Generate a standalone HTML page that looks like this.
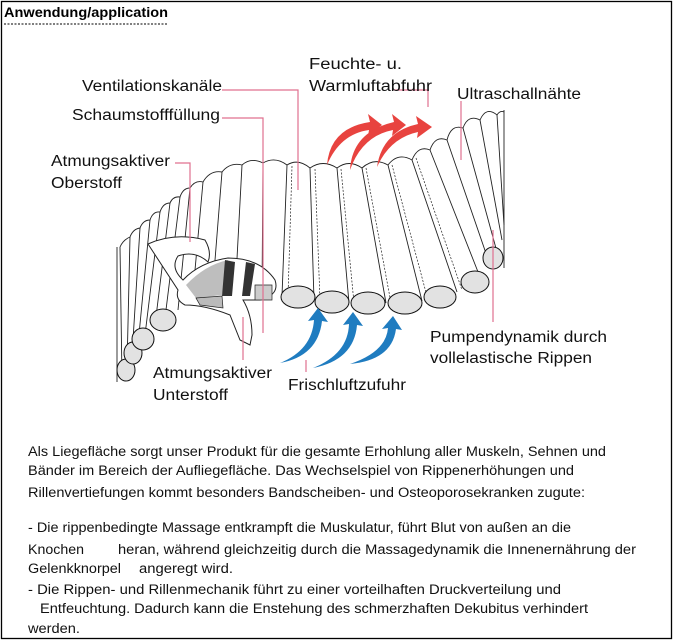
<!DOCTYPE html>
<html><head><meta charset="utf-8"><style>
html,body{margin:0;padding:0;background:#fff;}
svg{display:block;}
</style></head><body>
<svg width="674" height="643" viewBox="0 0 674 643" xmlns="http://www.w3.org/2000/svg">
<rect x="1.5" y="1.5" width="670" height="637" fill="#fff" stroke="#000" stroke-width="1.3"/>
<text x="4" y="17" font-family="Liberation Sans, sans-serif" font-size="13.5" font-weight="bold" textLength="164" lengthAdjust="spacingAndGlyphs">Anwendung/application</text>
<line x1="4" y1="24" x2="168" y2="24" stroke="#000" stroke-width="1" stroke-dasharray="2,1.5"/>

<g fill="none" stroke="#222" stroke-width="0.9">
<!-- rib boundaries -->
<path d="M120,247L122,378 M130,237L127,367 M140,228L132,356 M150,220L138,345 M160,212L145,335 M170,203L155,325 M180,197L165,318 M190,188L178,310 M203,182L192,303 M222,172L212,298 M242,165L235,296 M263,163L262,296 M287,165L282,296 M310,168L314,300 M337,168L349,303 M362,168L386,303 M388,165L422,301 M412,160L457,292 M430,150L480,277 M447,140L490,265 M463,128L497,252 M480,120L502,240 M497,115L504,225"/>
<!-- secondary lines -->
<path d="M292,166L288,296 M315,169L320,300 M341,169L354,303 M366,168L391,303 M392,165L428,300 M416,158L462,290" stroke-dasharray="2,1.5" stroke-width="0.7"/>
<!-- top caps -->
<path d="M120,247Q123,240 130,237Q133,229 140,228Q143,220 150,220Q153,211 160,212Q163,203 170,203Q173,196 180,197Q183,188 190,188Q195,180 203,182Q210,170 222,172Q230,162 242,165Q251,157 263,163Q275,156 287,165Q298,158 310,168Q323,159 337,168Q349,159 362,168Q374,157 388,165Q398,152 412,160Q418,145 430,150Q435,135 447,140Q451,124 463,128Q468,114 480,120Q486,106 497,115Q500,110 504,112"/>
<line x1="117" y1="247" x2="117" y2="382"/>
<line x1="504" y1="110" x2="504" y2="268"/>
</g>
<!-- ovals -->
<g fill="#e2e2e2" stroke="#111" stroke-width="1">
<ellipse cx="126" cy="370" rx="9" ry="11"/>
<ellipse cx="133" cy="353" rx="9" ry="11"/>
<ellipse cx="143" cy="339" rx="11" ry="11"/>
<ellipse cx="163" cy="320" rx="13" ry="11"/>
<ellipse cx="298" cy="297" rx="17" ry="11"/>
<ellipse cx="332" cy="302" rx="17" ry="11"/>
<ellipse cx="368" cy="303" rx="17" ry="11"/>
<ellipse cx="405" cy="303" rx="17" ry="11"/>
<ellipse cx="440" cy="297" rx="16" ry="11"/>
<ellipse cx="475" cy="282" rx="14" ry="11"/>
<ellipse cx="493" cy="258" rx="10" ry="11"/>
</g>
<!-- cutaway -->
<path d="M148,244Q175,232 205,240Q212,252 208,262Q195,250 178,256Q170,268 183,280Q200,262 228,258Q260,258 275,280Q280,295 260,300L243,300Q252,315 252,335L250,345L240,340L230,315Q205,305 185,305Q175,300 178,290Z" fill="#fff" stroke="#222" stroke-width="1"/>
<path d="M186,285Q205,265 228,260L222,295L196,298Z" fill="#888" opacity="0.55"/>
<path d="M225,260L235,262L232,296L222,296Z" fill="#333"/>
<path d="M246,262L255,264L250,296L242,296Z" fill="#333"/>
<path d="M196,298L222,296L223,308L200,305Z" fill="#bbb" stroke="#222" stroke-width="0.7"/>
<path d="M255,285L272,285L272,300L255,300Z" fill="#ccc" stroke="#222" stroke-width="0.7"/>

<!-- red arrows -->
<g fill="#e8433f">
<path d="M327,165Q330,128 370,122L368,114L382,125L368,136L369,130Q340,134 327,165Z"/>
<path d="M350,170Q352,132 394,122L392,114L406,125L392,136L393,130Q362,136 350,170Z"/>
<path d="M377,167Q382,132 418,124L416,116L432,127L417,138L418,132Q390,138 377,167Z"/>
</g>
<!-- blue arrows -->
<g fill="#1f7cc0">
<path d="M280,363Q312,350 314,320L308,321L318,308L328,322L322,321Q318,356 280,363Z"/>
<path d="M313,368Q348,354 349,324L343,325L353,312L363,326L357,325Q354,360 313,368Z"/>
<path d="M350,364Q386,352 388,328L382,329L393,316L402,330L396,329Q392,360 350,364Z"/>
</g>

<!-- pink leaders -->
<g stroke="#e0708f" stroke-width="1.2" fill="none">
<path d="M222,90H298V190"/>
<path d="M222,118H263V333"/>
<path d="M394,90H428V107"/>
<path d="M461,101V160"/>
<path d="M175,163H190V242"/>
<path d="M243,317V360"/>
<path d="M306,360V372"/>
<path d="M493,230V322"/>
</g>

<g font-family="Liberation Sans, sans-serif" font-size="15.5" fill="#111">
<text x="82" y="91" textLength="140" lengthAdjust="spacingAndGlyphs">Ventilationskanäle</text>
<text x="72" y="120" textLength="148" lengthAdjust="spacingAndGlyphs">Schaumstofffüllung</text>
<text x="309" y="69" textLength="93" lengthAdjust="spacingAndGlyphs">Feuchte- u.</text>
<text x="309" y="91" textLength="123" lengthAdjust="spacingAndGlyphs">Warmluftabfuhr</text>
<text x="457" y="99" textLength="124" lengthAdjust="spacingAndGlyphs">Ultraschallnähte</text>
<text x="51" y="166" textLength="119" lengthAdjust="spacingAndGlyphs">Atmungsaktiver</text>
<text x="51" y="188" textLength="71" lengthAdjust="spacingAndGlyphs">Oberstoff</text>
<text x="153" y="378" textLength="119" lengthAdjust="spacingAndGlyphs">Atmungsaktiver</text>
<text x="153" y="400" textLength="75" lengthAdjust="spacingAndGlyphs">Unterstoff</text>
<text x="288" y="390" textLength="118" lengthAdjust="spacingAndGlyphs">Frischluftzufuhr</text>
<text x="430" y="342" textLength="177" lengthAdjust="spacingAndGlyphs">Pumpendynamik durch</text>
<text x="430" y="363" textLength="162" lengthAdjust="spacingAndGlyphs">vollelastische Rippen</text>
</g>

<g font-family="Liberation Sans, sans-serif" font-size="13.5" fill="#111">
<text x="28" y="456" textLength="578" lengthAdjust="spacingAndGlyphs">Als Liegefläche sorgt unser Produkt für die gesamte Erhohlung aller Muskeln, Sehnen und</text>
<text x="28" y="475" textLength="546" lengthAdjust="spacingAndGlyphs">Bänder im Bereich der Aufliegefläche. Das Wechselspiel von Rippenerhöhungen und</text>
<text x="28" y="497" textLength="557" lengthAdjust="spacingAndGlyphs">Rillenvertiefungen kommt besonders Bandscheiben- und Osteoporosekranken zugute:</text>
<text x="28" y="532" textLength="543" lengthAdjust="spacingAndGlyphs">-  Die rippenbedingte Massage entkrampft die Muskulatur, führt Blut von außen an die</text>
<text x="28" y="554" textLength="56" lengthAdjust="spacingAndGlyphs">Knochen</text>
<text x="118" y="554" textLength="518" lengthAdjust="spacingAndGlyphs">heran, während gleichzeitig durch die Massagedynamik die Innenernährung der</text>
<text x="28" y="573" textLength="93" lengthAdjust="spacingAndGlyphs">Gelenkknorpel</text>
<text x="139" y="573" textLength="94" lengthAdjust="spacingAndGlyphs">angeregt wird.</text>
<text x="28" y="594" textLength="533" lengthAdjust="spacingAndGlyphs">-  Die Rippen- und Rillenmechanik führt zu einer vorteilhaften Druckverteilung und</text>
<text x="40" y="613" textLength="548" lengthAdjust="spacingAndGlyphs">Entfeuchtung. Dadurch kann die Enstehung des schmerzhaften Dekubitus verhindert</text>
<text x="28" y="633" textLength="52" lengthAdjust="spacingAndGlyphs">werden.</text>
</g>
</svg>
</body></html>
